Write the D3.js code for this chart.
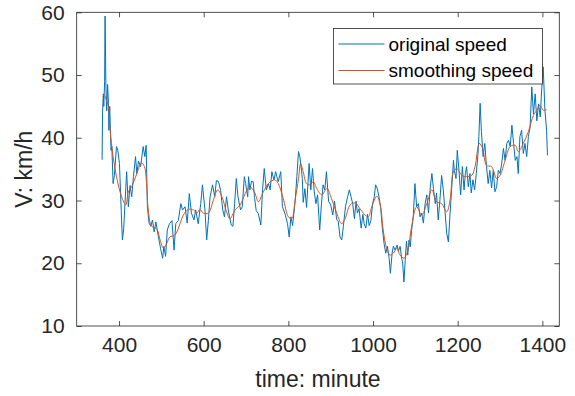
<!DOCTYPE html>
<html>
<head>
<meta charset="utf-8">
<script src="https://cdnjs.cloudflare.com/ajax/libs/d3/7.8.5/d3.min.js"></script>
<style>
  body { margin: 0; background: #fff; }
  svg { display: block; font-family: "Liberation Sans", Arial, sans-serif; }
</style>
</head>
<body>
<div id="chart"></div>
<script>
// original speed samples (minute, km/h)
var origTime = [360,361,363,364,366,367,369,371,373,375,376,378,381,383,386,389,394,397,401,406,408,411,418,422,426,430,434,439,442,446,451,457,461,464,467,471,475,479,483,487,493,498,503,506,510,514,519,525,530,534,540,546,550,556,561,566,571,577,581,587,593,597,603,607,611,615,621,626,630,635,640,645,649,654,658,665,669,673,677,681,687,691,696,699,704,706,709,713,717,720,724,729,735,739,743,748,753,757,761,766,770,776,782,786,792,798,802,806,810,816,820,824,827,831,833,835,839,843,849,853,857,861,865,869,874,878,882,886,890,895,900,905,909,914,918,922,926,930,935,940,944,948,952,956,960,963,967,972,976,979,983,987,991,995,999,1003,1006,1010,1014,1018,1022,1026,1030,1034,1038,1041,1045,1048,1052,1057,1060,1064,1067,1070,1073,1076,1079,1082,1085,1088,1091,1095,1099,1103,1107,1111,1115,1119,1123,1127,1131,1135,1139,1143,1147,1150,1154,1158,1162,1166,1170,1174,1178,1182,1186,1190,1192,1196,1199,1203,1207,1211,1215,1218,1221,1225,1229,1232,1236,1240,1244,1248,1250,1253,1256,1260,1264,1268,1272,1276,1280,1284,1288,1292,1296,1300,1304,1308,1312,1316,1320,1324,1328,1332,1336,1340,1343,1347,1351,1355,1359,1363,1367,1371,1375,1379,1383,1387,1391,1395,1398,1402,1406,1410,1412];
var origSpeed = [36.5,44,47,45,49,59.4,48.1,44.3,48.5,45.5,41.2,45,38,38.6,32.7,34,38.6,38,35.9,26.9,23.7,25.5,34.6,29,32.4,30.6,33.8,37,34.3,36.3,35.4,38.6,37,38.8,29,26.4,25.9,26.9,25,26.6,24.2,22.4,20.8,22.7,21.1,25.3,26.3,26.8,22.1,26.3,26.8,29.5,28.5,29,26.4,31.1,28,26.9,28.5,26.3,29.5,32.5,28.5,23.7,26.8,30.6,32.5,30.6,33.2,33,31.6,28.5,27.4,30.6,28.5,26.1,25.9,29.5,33.5,30.6,28.5,29,33.8,32.7,30.6,33.8,31.7,33.1,33,30.5,28.4,27.9,26.1,31.7,35.1,31.7,32.7,31.7,34.6,33.3,34.6,33,34.6,29,27.9,26.3,24.2,27.4,26,29.9,33.8,37.8,37,34.8,33.5,29.7,31.9,28.9,35.9,31.7,35.1,31.5,29.5,30.9,25.3,29.3,32.5,31.7,34.6,29.9,29.3,27.7,29.9,27,26.6,24.2,23.7,25.9,29.1,30.6,31.7,30.6,29.5,27.1,29.9,28,28.7,25.6,27.8,26.3,25.6,27.8,26,26.8,29.5,30.6,32.5,31.9,30.6,28.9,25.6,23.2,21.6,22.7,20.8,18.4,21.6,22.7,22.1,22.9,21.9,22.7,21.1,20,17,20.5,23.5,21.3,23.7,22.6,25.2,27.4,32.7,29,29.5,27.4,28,26.4,29.5,30.9,28,32,34.3,31.7,29.5,31.2,26.9,30.1,34,31.7,28.3,24.8,23.4,28,32.2,36.4,34.8,33.5,38,34.8,30.9,35.4,31.7,34.3,35.4,32.2,34.3,31.2,33.3,31.7,34.3,37.5,40.2,45.5,41,37,39.1,35.4,32.7,34.8,32,34.8,31.4,32.2,34.8,34.3,35.9,38.3,36.4,39.1,39.6,38.6,42,39.1,36.4,37,34.3,40.2,41.2,37.5,39.1,37,40.2,41.7,48.1,43.8,47,42.7,45.4,43.3,47.3,51.3,44.4,41.2,37.2];

// smoothing speed
var smoothTime = [361,365,369,375,379,386,394,406,416,422,430,442,453,460,465,469,477,489,497,505,513,520,532,544,552,564,576,584,591,599,611,623,633,643,654,662,674,686,698,706,713,721,729,741,753,768,776,788,800,808,816,824,829,835,843,851,859,867,879,891,902,914,926,934,946,958,969,981,989,997,1009,1017,1024,1032,1040,1048,1056,1064,1073,1080,1084,1091,1103,1115,1127,1139,1150,1162,1174,1182,1190,1198,1210,1221,1233,1241,1251,1259,1268,1280,1292,1300,1312,1324,1336,1343,1355,1367,1379,1387,1394,1402,1410];
var smoothSpeed = [46.6,46.8,46.2,45,41.2,37,33.8,30.6,29.3,31.4,32.2,34.3,36,35.4,32.7,28.5,25.9,25.5,23.7,22.4,23.2,24.2,24.5,26.3,27.7,28.6,28.5,28,28.6,28,28,30.1,31.7,30.6,28.2,27.1,28.5,29.3,31.1,32,32,31.2,29.8,31.4,32.7,33.3,32.7,30.3,27.4,27.1,30.1,33.5,35.9,34.6,32.7,32.5,33,31.9,30.9,31.9,30.3,28,26.3,27.1,29.3,29.6,28.7,27.7,27.4,29,30.7,29.3,25.3,22.4,21.3,21.6,22.4,21.3,20.8,21.6,22.6,25.8,29,27.7,29.5,31.7,29.8,29.5,28.2,30.1,34.6,35.1,34,33.8,34,35.4,39.1,38.3,35.6,35.4,33.5,34,36.4,38.6,38.8,37.8,39.1,41,43.6,44.4,45.2,44.4,44.5];

var xTicks = [400, 600, 800, 1000, 1200, 1400];
var yTicks = [10, 20, 30, 40, 50, 60];
var seriesNames = ["original speed", "smoothing speed"];
var seriesColors = ["#0072BD", "#D95319"];

var W = 575, H = 396;
var margin = { top: 12.3, right: 15.7, bottom: 70, left: 76.7 };
var width = W - margin.left - margin.right;
var height = 326 - margin.top;

var svg = d3.select("#chart").append("svg")
    .attr("width", W)
    .attr("height", H);

var g = svg.append("g")
    .attr("transform", "translate(" + margin.left + "," + margin.top + ")");

var x = d3.scaleLinear().domain([300, 1440]).range([0, width]);
var y = d3.scaleLinear().domain([10, 60]).range([height, 0]);

var axisColor = "#262626";

// ticks inside, mirrored on all four sides
function styleAxis(sel) {
  sel.select(".domain").remove();
  sel.selectAll(".tick line").attr("stroke", axisColor).attr("stroke-width", 0.8);
  sel.selectAll(".tick text")
    .attr("fill", axisColor)
    .style("font-size", "21px")
    .style("font-family", "'Liberation Sans', Arial, sans-serif");
}

g.append("g")
    .attr("transform", "translate(0," + height + ")")
    .call(d3.axisBottom(x).tickValues(xTicks).tickSize(-5).tickPadding(11).tickFormat(d3.format("d")))
    .call(styleAxis);
g.append("g")
    .call(d3.axisTop(x).tickValues(xTicks).tickSize(-5).tickFormat(""))
    .call(styleAxis);
g.append("g")
    .call(d3.axisLeft(y).tickValues(yTicks).tickSize(-5).tickPadding(12))
    .call(styleAxis);
g.append("g")
    .attr("transform", "translate(" + width + ",0)")
    .call(d3.axisRight(y).tickValues(yTicks).tickSize(-5).tickFormat(""))
    .call(styleAxis);

// the lines
var origData = origTime.map(function(t, i) { return [t, origSpeed[i]]; });
var smoothData = smoothTime.map(function(t, i) { return [t, smoothSpeed[i]]; });

var line = d3.line()
    .x(function(d) { return x(d[0]); })
    .y(function(d) { return y(d[1]); });

g.append("path")
    .datum(origData)
    .attr("fill", "none")
    .attr("stroke", seriesColors[0])
    .attr("stroke-width", 1)
    .attr("d", line);

g.append("path")
    .datum(smoothData)
    .attr("fill", "none")
    .attr("stroke", seriesColors[1])
    .attr("stroke-width", 1)
    .attr("d", line.curve(d3.curveCatmullRom));

// box
g.append("rect")
    .attr("width", width)
    .attr("height", height)
    .attr("fill", "none")
    .attr("stroke", axisColor)
    .attr("stroke-width", 0.8);

// axis labels
svg.append("text")
    .attr("x", margin.left + width / 2)
    .attr("y", 387)
    .attr("text-anchor", "middle")
    .attr("fill", axisColor)
    .style("font-size", "23px")
    .text("time: minute");

svg.append("text")
    .attr("transform", "translate(32," + (margin.top + height / 2) + ") rotate(-90)")
    .attr("text-anchor", "middle")
    .attr("fill", axisColor)
    .style("font-size", "23px")
    .text("V: km/h");

// legend
var legend = svg.append("g").attr("transform", "translate(333.5,28.5)");
legend.append("rect")
    .attr("width", 209)
    .attr("height", 55.5)
    .attr("fill", "#fff")
    .attr("stroke", axisColor)
    .attr("stroke-width", 0.8);

var item = legend.selectAll(".item")
    .data(seriesNames)
    .enter().append("g")
    .attr("transform", function(d, i) { return "translate(0," + (15.5 + i * 26.5) + ")"; });

item.append("line")
    .attr("x1", 5).attr("x2", 51)
    .attr("stroke", function(d, i) { return seriesColors[i]; })
    .attr("stroke-width", 1);

item.append("text")
    .attr("x", 55)
    .attr("dy", "0.35em")
    .attr("fill", "#000")
    .style("font-size", "19px")
    .text(function(d) { return d; });
</script>
</body>
</html>
